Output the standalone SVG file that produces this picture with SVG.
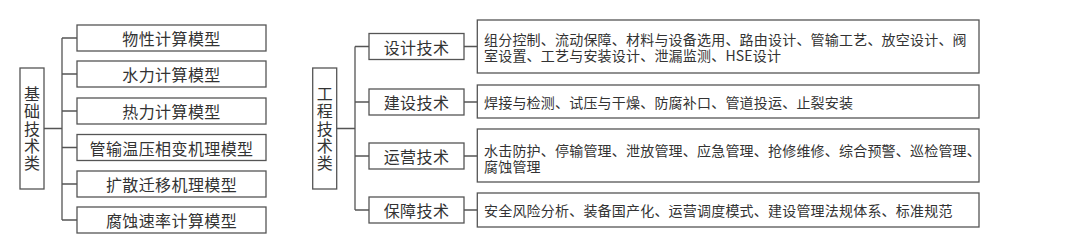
<svg xmlns="http://www.w3.org/2000/svg" width="1080" height="245" viewBox="0 0 1080 245">
<style>
.box{fill:#fff;stroke:#555;stroke-width:1.3}
.ln{fill:none;stroke:#555;stroke-width:1.3}
text{font-family:"Noto Sans CJK SC","Noto Sans",sans-serif;fill:#333;dominant-baseline:central}
.lb{font-size:16px;text-anchor:middle;letter-spacing:0.4px}
.vt{font-size:16px;text-anchor:middle;writing-mode:vertical-rl;letter-spacing:1.1px}
.dt{font-size:14px;letter-spacing:0.2px}
</style>
<rect width="1080" height="245" fill="#fff"/>
<g id="connectors">
<path class="ln" d="M44 128.5H62M62 38V220M62 38H77M62 74H77M62 111H77M62 147.5H77M62 184H77M62 220H77"/>
<path class="ln" d="M336.7 128.5H355M355 46.5V210M355 46.5H369M355 102H369M355 156H369M355 210H369"/>
<path class="ln" d="M464 46.5H477.3M464 102H477.3M464 156H477.3M464 210H477.3"/>
</g>
<g id="n-jichu">
<rect class="box" x="20" y="68" width="24" height="121"/>
<text class="vt" x="32" y="129">基础技术类</text>
</g>
<g id="n-wuxing"><rect class="box" x="77" y="25" width="189" height="26"/><text class="lb" x="171.5" y="38">物性计算模型</text></g>
<g id="n-shuili"><rect class="box" x="77" y="61" width="189" height="26"/><text class="lb" x="171.5" y="74">水力计算模型</text></g>
<g id="n-reli"><rect class="box" x="77" y="98" width="189" height="26"/><text class="lb" x="171.5" y="111">热力计算模型</text></g>
<g id="n-guanshu"><rect class="box" x="77" y="134.5" width="189" height="26"/><text class="lb" x="171.5" y="147.5">管输温压相变机理模型</text></g>
<g id="n-kuosan"><rect class="box" x="77" y="171" width="189" height="26"/><text class="lb" x="171.5" y="184">扩散迁移机理模型</text></g>
<g id="n-fushi"><rect class="box" x="77" y="207" width="189" height="26"/><text class="lb" x="171.5" y="220">腐蚀速率计算模型</text></g>
<g id="n-gongcheng">
<rect class="box" x="312.7" y="68" width="24" height="121"/>
<text class="vt" x="324.7" y="129">工程技术类</text>
</g>
<g id="n-sheji"><rect class="box" x="369" y="33.5" width="95" height="26"/><text class="lb" x="416.5" y="46.5">设计技术</text></g>
<g id="n-jianshe"><rect class="box" x="369" y="89" width="95" height="26"/><text class="lb" x="416.5" y="102">建设技术</text></g>
<g id="n-yunying"><rect class="box" x="369" y="143" width="95" height="26"/><text class="lb" x="416.5" y="156">运营技术</text></g>
<g id="n-baozhang"><rect class="box" x="369" y="197" width="95" height="26"/><text class="lb" x="416.5" y="210">保障技术</text></g>
<g id="d-sheji"><rect class="box" x="477.3" y="20" width="501.7" height="53"/>
<text class="dt" x="484" y="38.5"><tspan x="484" y="38.5">组分控制、流动保障、材料与设备选用、路由设计、管输工艺、放空设计、阀</tspan><tspan x="484" y="54.5">室设置、工艺与安装设计、泄漏监测、HSE设计</tspan></text></g>
<g id="d-jianshe"><rect class="box" x="477.3" y="85" width="501.7" height="33"/>
<text class="dt" x="484" y="101.5">焊接与检测、试压与干燥、防腐补口、管道投运、止裂安装</text></g>
<g id="d-yunying"><rect class="box" x="477.3" y="129" width="501.7" height="53"/>
<text class="dt" x="484" y="150"><tspan x="484" y="150">水击防护、停输管理、泄放管理、应急管理、抢修维修、综合预警、巡检管理、</tspan><tspan x="484" y="166">腐蚀管理</tspan></text></g>
<g id="d-baozhang"><rect class="box" x="477.3" y="193" width="501.7" height="34"/>
<text class="dt" x="484" y="210">安全风险分析、装备国产化、运营调度模式、建设管理法规体系、标准规范</text></g>
</svg>
